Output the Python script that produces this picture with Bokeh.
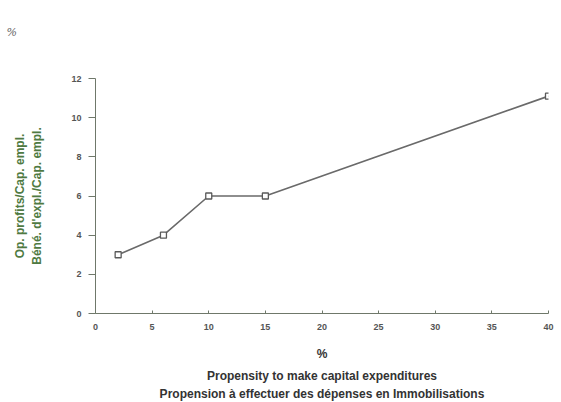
import math
from bokeh.plotting import figure
from bokeh.models import Range1d, FixedTicker, Title
from bokeh.embed import file_html
from bokeh.resources import INLINE

# Data
propensity = [2, 6, 10, 15, 40]
op_profit_ratio = [3, 4, 6, 6, 11.1]
x_ticks = [0, 5, 10, 15, 20, 25, 30, 35, 40]
y_ticks = [0, 2, 4, 6, 8, 10, 12]
unit_label = "%"
y_title_en = "Op. profits/Cap. empl."
y_title_fr = "Béné. d'expl./Cap. empl."
x_unit = "%"
x_title_en = "Propensity to make capital expenditures"
x_title_fr = "Propension à effectuer des dépenses en Immobilisations"

p = figure(width=561, height=402, output_backend="svg", toolbar_location=None,
           x_range=Range1d(0, 40), y_range=Range1d(0, 12),
           min_border_left=95, min_border_right=13, min_border_top=78,
           min_border_bottom=89)
p.background_fill_color = "white"
p.border_fill_color = "white"
p.outline_line_color = None
p.grid.grid_line_color = None

axis_col = "#6f786a"
for ax in (p.xaxis[0], p.yaxis[0]):
    ax.axis_line_color = axis_col
    ax.major_tick_line_color = axis_col
    ax.minor_tick_line_color = None
    ax.major_label_text_color = "#555555"
    ax.major_label_text_font = "Liberation Sans"
    ax.major_label_text_font_size = "9px"
    ax.major_label_text_font_style = "bold"
    ax.axis_label_text_font = "Liberation Sans"
    ax.axis_label_text_font_style = "bold"
    ax.axis_label_text_font_size = "12px"

p.xaxis.ticker = FixedTicker(ticks=x_ticks)
p.yaxis.ticker = FixedTicker(ticks=y_ticks)
p.xaxis.major_tick_in = 3
p.xaxis.major_tick_out = 0
p.xaxis.major_label_standoff = 10
p.yaxis.major_tick_in = 0
p.yaxis.major_tick_out = 7
p.yaxis.major_label_standoff = 7

p.yaxis.axis_label = y_title_en + "\n" + y_title_fr
p.yaxis.axis_label_text_color = "#4f7a42"
p.yaxis.axis_label_standoff = 24
p.yaxis.axis_label_text_line_height = 1.25

p.xaxis.axis_label = x_unit
p.xaxis.axis_label_text_color = "#333333"
p.xaxis.axis_label_standoff = 14
p.xaxis.axis_label_text_line_height = 0.9

p.line(propensity, op_profit_ratio, line_color="#6a6a6a", line_width=1.6)
p.scatter(propensity, op_profit_ratio, marker="square", size=6,
          line_color="#5a5a5a", fill_color="white", line_width=1.3)

# top-left unit (padded with blank lines so it sits near the top edge)
p.title.text = unit_label + "\n\n\n"
p.title.align = "left"
p.title.offset = -89
p.title.standoff = 2
p.title.text_line_height = 1.0
p.title.text_font = "DejaVu Serif"
p.title.text_font_style = "italic"
p.title.text_font_size = "11px"
p.title.text_color = "#666666"

for t, so in ((x_title_en, 6), (x_title_fr, -2)):
    p.add_layout(Title(text=t, align="center", text_font="Liberation Sans",
                       text_font_style="bold", text_font_size="12px",
                       text_color="#333333", standoff=so,
                       text_line_height=0.9), "below")

open("out.html", "w").write(file_html(p, INLINE))
